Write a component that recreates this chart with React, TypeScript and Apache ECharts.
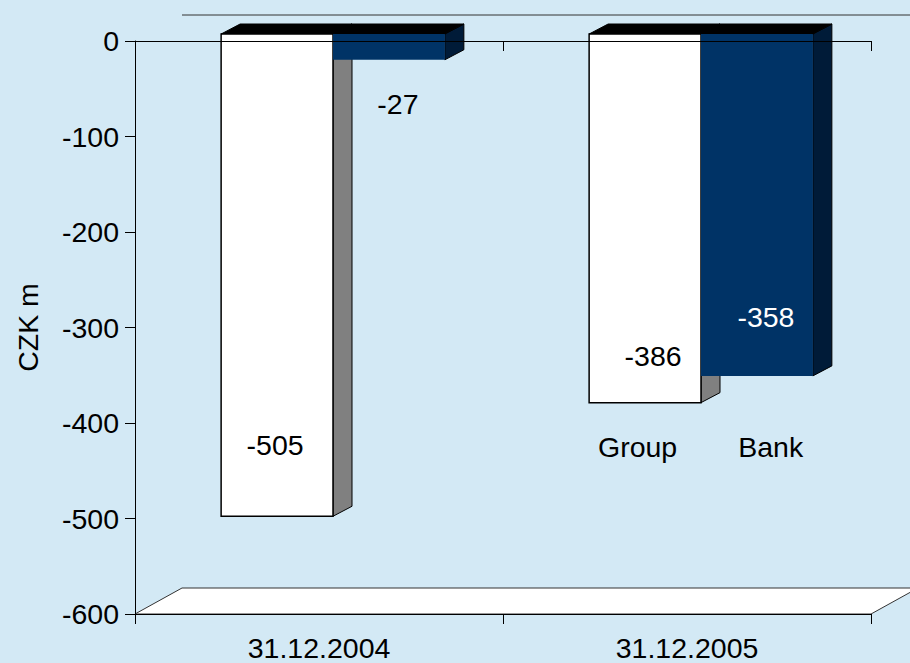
import React, { useEffect, useRef } from 'react';
import * as echarts from 'echarts';

// ---- data ----
const categories = ['31.12.2004', '31.12.2005'];
const seriesNames = ['Group', 'Bank'];
const groupValues = [-505, -386];
const bankValues = [-27, -358];
const yMin = -600;
const yMax = 0;
const yInterval = 100;
const yAxisTitle = 'CZK m';

// ---- style ----
const FONT = "'Liberation Sans', Arial, sans-serif";
const FS = 28.5;
const BG = '#d3e9f5';
const DEPTH = { dx: 47, dy: -26 };
const BAR_FRONT = { dx: 14, dy: -7 };
const BAR_DEPTH = { dx: 19, dy: -10 };
const BAR_WIDTH_RATIO = 0.304;

const barStyles = [
  { front: '#ffffff', side: '#808080', top: '#000000', stroke: '#000000', strokeW: 1.5 },
  { front: '#003366', side: '#001b38', top: '#000000', stroke: '#003366', strokeW: 0 },
];
const labelOffsets = [
  [[-2, -71], [8, -47]],
  [[9, 44], [9, -59]],
];
const labelColors = [
  ['#000', '#000'],
  ['#000', '#fff'],
];

function makeBarRender(si: number) {
  return (params: any, api: any) => {
    const i = api.value(0);
    const v = api.value(1);
    const base = api.coord([i, 0]);
    const end = api.coord([i, v]);
    const band = api.size([1, 0])[0];
    const w = band * BAR_WIDTH_RATIO;
    const cx = base[0] + BAR_FRONT.dx;
    const x0 = si === 0 ? cx - w : cx;
    const x1 = x0 + w;
    const yt = base[1] + BAR_FRONT.dy;
    const yb = end[1] + BAR_FRONT.dy;
    const ddx = BAR_DEPTH.dx;
    const ddy = BAR_DEPTH.dy;
    const st = barStyles[si];
    const off = labelOffsets[si][i];
    return {
      type: 'group',
      children: [
        {
          type: 'polygon',
          shape: { points: [[x1, yt], [x1 + ddx, yt + ddy], [x1 + ddx, yb + ddy], [x1, yb]] },
          style: { fill: st.side, stroke: '#000', lineWidth: 1 },
        },
        {
          type: 'polygon',
          shape: { points: [[x0, yt], [x1, yt], [x1 + ddx, yt + ddy], [x0 + ddx, yt + ddy]] },
          style: { fill: st.top, stroke: '#000', lineWidth: 1 },
        },
        {
          type: 'rect',
          shape: { x: x0, y: yt, width: w, height: yb - yt },
          style: { fill: st.front, stroke: st.stroke, lineWidth: st.strokeW },
        },
        {
          type: 'text',
          x: (x0 + x1) / 2 + off[0],
          y: yb + off[1],
          style: {
            text: String(v),
            fill: labelColors[si][i],
            fontSize: FS,
            fontFamily: FONT,
            align: 'center',
            verticalAlign: 'middle',
          },
        },
      ],
    };
  };
}

function floorRender(params: any, api: any) {
  const cs = params.coordSys;
  const xl = cs.x;
  const xr = cs.x + cs.width;
  const yTop = cs.y;
  const yBot = cs.y + cs.height;
  return {
    type: 'group',
    children: [
      {
        type: 'polygon',
        shape: {
          points: [[xl, yBot], [xr, yBot], [xr + DEPTH.dx, yBot + DEPTH.dy], [xl + DEPTH.dx, yBot + DEPTH.dy]],
        },
        style: { fill: '#ffffff', stroke: '#333', lineWidth: 1 },
      },
      {
        type: 'line',
        shape: { x1: xl + DEPTH.dx, y1: yTop + DEPTH.dy, x2: xr + DEPTH.dx, y2: yTop + DEPTH.dy },
        style: { stroke: '#333', lineWidth: 1 },
      },
    ],
  };
}

export default function App() {
  const ref = useRef<HTMLDivElement>(null);
  useEffect(() => {
    document.body.style.margin = '0';
    const chart = echarts.init(ref.current!, null, { renderer: 'svg' });
    const valuesBySeries = [groupValues, bankValues];
    chart.setOption({
      animation: false,
      backgroundColor: BG,
      textStyle: { fontFamily: FONT },
      grid: { left: 135, right: 39, top: 41, bottom: 49, outerBoundsMode: 'none' },
      legend: {
        data: seriesNames,
        left: 588,
        top: 427,
        icon: 'rect',
        itemWidth: 0,
        itemHeight: 0,
        itemGap: 56,
        textStyle: { fontSize: FS, fontFamily: FONT, color: '#000' },
        selectedMode: false,
      },
      xAxis: [
        {
          type: 'category',
          data: categories,
          position: 'bottom',
          axisLine: { onZero: false, lineStyle: { color: '#000', width: 1 } },
          axisTick: { show: true, length: 10, lineStyle: { color: '#000' } },
          axisLabel: { fontSize: FS, fontFamily: FONT, color: '#000', margin: 19 },
          splitLine: { show: false },
          z: 10,
        },
        {
          type: 'category',
          data: categories,
          position: 'top',
          axisLine: { onZero: false, lineStyle: { color: '#000', width: 1 } },
          axisTick: { show: true, inside: true, length: 10, lineStyle: { color: '#000' } },
          axisLabel: { show: false },
          splitLine: { show: false },
          z: 10,
        },
      ],
      yAxis: {
        type: 'value',
        min: yMin,
        max: yMax,
        interval: yInterval,
        name: yAxisTitle,
        nameLocation: 'middle',
        nameRotate: 90,
        nameGap: 93,
        nameTextStyle: { fontSize: FS, fontFamily: FONT, color: '#000' },
        axisLine: { show: true, lineStyle: { color: '#000', width: 1 } },
        axisTick: { show: true, length: 10, lineStyle: { color: '#000' } },
        axisLabel: { fontSize: FS, fontFamily: FONT, color: '#000', margin: 16 },
        splitLine: { show: false },
        z: 10,
      },
      series: [
        {
          type: 'custom',
          name: 'floor',
          renderItem: floorRender,
          data: [[0, 0]],
          z: 1,
          silent: true,
        },
        ...seriesNames.map((name, si) => ({
          type: 'custom',
          name,
          renderItem: makeBarRender(si),
          encode: { x: 0, y: 1 },
          data: categories.map((_, i) => [i, valuesBySeries[si][i]]),
          itemStyle: { color: barStyles[si].front },
          z: 2,
        })),
      ],
    });
    return () => chart.dispose();
  }, []);
  return (
    <div
      ref={ref}
      style={{ position: 'fixed', left: 0, top: 0, width: 910, height: 663, background: BG }}
    />
  );
}
